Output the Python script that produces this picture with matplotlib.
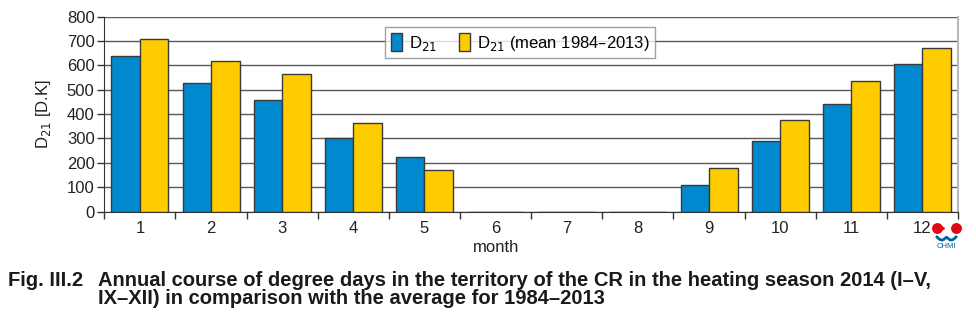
import numpy as np
import matplotlib.pyplot as plt

months = ['1', '2', '3', '4', '5', '6', '7', '8', '9', '10', '11', '12']
d21_2014 = [637, 527, 458, 302, 224, 0, 0, 0, 110, 291, 441, 605]
d21_mean = [706, 619, 566, 363, 170, 0, 0, 0, 179, 377, 537, 672]

blue = '#0089cf'
yellow = '#ffcc00'
edge = '#3a3a3a'

plt.rcParams['font.family'] = ['Liberation Sans', 'DejaVu Sans']

fig = plt.figure(figsize=(9.76, 3.24), dpi=100)
ax = fig.add_axes([0.1069, 0.3472, 0.8747, 0.6018])

x = np.arange(len(months))
w = 0.4
ax.bar(x - w / 2, d21_2014, w, color=blue, edgecolor=edge, linewidth=1, label='D$_{21}$', zorder=3)
ax.bar(x + w / 2, d21_mean, w, color=yellow, edgecolor=edge, linewidth=1,
       label='D$_{21}$ (mean 1984–2013)', zorder=3)

ax.set_xlim(-0.5, 11.5)
ax.set_ylim(0, 800)
ax.set_yticks(range(0, 801, 100))
ax.set_xticks(x)
ax.set_xticklabels(months)
ax.set_xticks(np.arange(-0.5, 12, 1), minor=True)
ax.tick_params(axis='x', which='major', length=0, pad=7, labelsize=12, colors='#222222')
ax.tick_params(axis='x', which='minor', length=5, width=1, direction='out', color='#333333')
ax.tick_params(axis='y', length=5, width=1, direction='out', pad=2, labelsize=12,
               colors='#222222', color='#333333')

ax.yaxis.grid(True, color='#5a5a5a', linewidth=1, zorder=0)
ax.set_axisbelow(True)
ax.spines['top'].set_visible(False)
ax.spines['right'].set_color('#b8b8b8')
ax.spines['right'].set_linewidth(1.5)
ax.spines['left'].set_color('#333333')
ax.spines['bottom'].set_color('#333333')

ax.set_ylabel('D$_{21}$ [D.K]', fontsize=12, color='#222222', labelpad=10)
ax.set_xlabel('month', fontsize=12, color='#222222')
ax.xaxis.set_label_coords(5.5 / 12, -0.145)

leg = ax.legend(loc='upper center', bbox_to_anchor=(0.487, 0.946), ncol=2, frameon=True,
                fancybox=False, edgecolor='#888888', fontsize=12, handlelength=0.7,
                handleheight=1.3, handletextpad=0.4, columnspacing=1.3, borderpad=0.35,
                borderaxespad=0)
leg.get_frame().set_linewidth(1)

# CHMI logo (approximate)
fig.add_artist(plt.Line2D([936.5 / 976, 955.5 / 976], [1 - 228 / 324] * 2, linestyle='none',
                          marker='o', markersize=6.8, color='#e30613'))
fig.add_artist(plt.Line2D([944 / 976], [1 - 228 / 324], linestyle='none',
                          marker=5, markersize=6, color='#e30613'))
wx = np.linspace(937, 956, 30)
wy = 237 + 3 * np.abs(np.sin((wx - 937) / 19 * 2 * np.pi))
fig.add_artist(plt.Line2D(wx / 976, 1 - wy / 324, color='#0060a8', linewidth=2))
fig.text(946.5 / 976, 1 - 247 / 324, 'CHMI', fontsize=5.5, ha='center', va='center', color='#0060a8')

cap = dict(fontsize=14.5, fontweight='bold', color='#1a1a1a', va='center', ha='left')
fig.text(8 / 976, 1 - 281 / 324, 'Fig. III.2', **cap)
fig.text(98 / 976, 1 - 281 / 324,
         'Annual course of degree days in the territory of the CR in the heating season 2014 (I–V,',
         **cap)
fig.text(98 / 976, 1 - 299 / 324, 'IX–XII) in comparison with the average for 1984–2013', **cap)

fig.savefig('out.png', dpi=100)
